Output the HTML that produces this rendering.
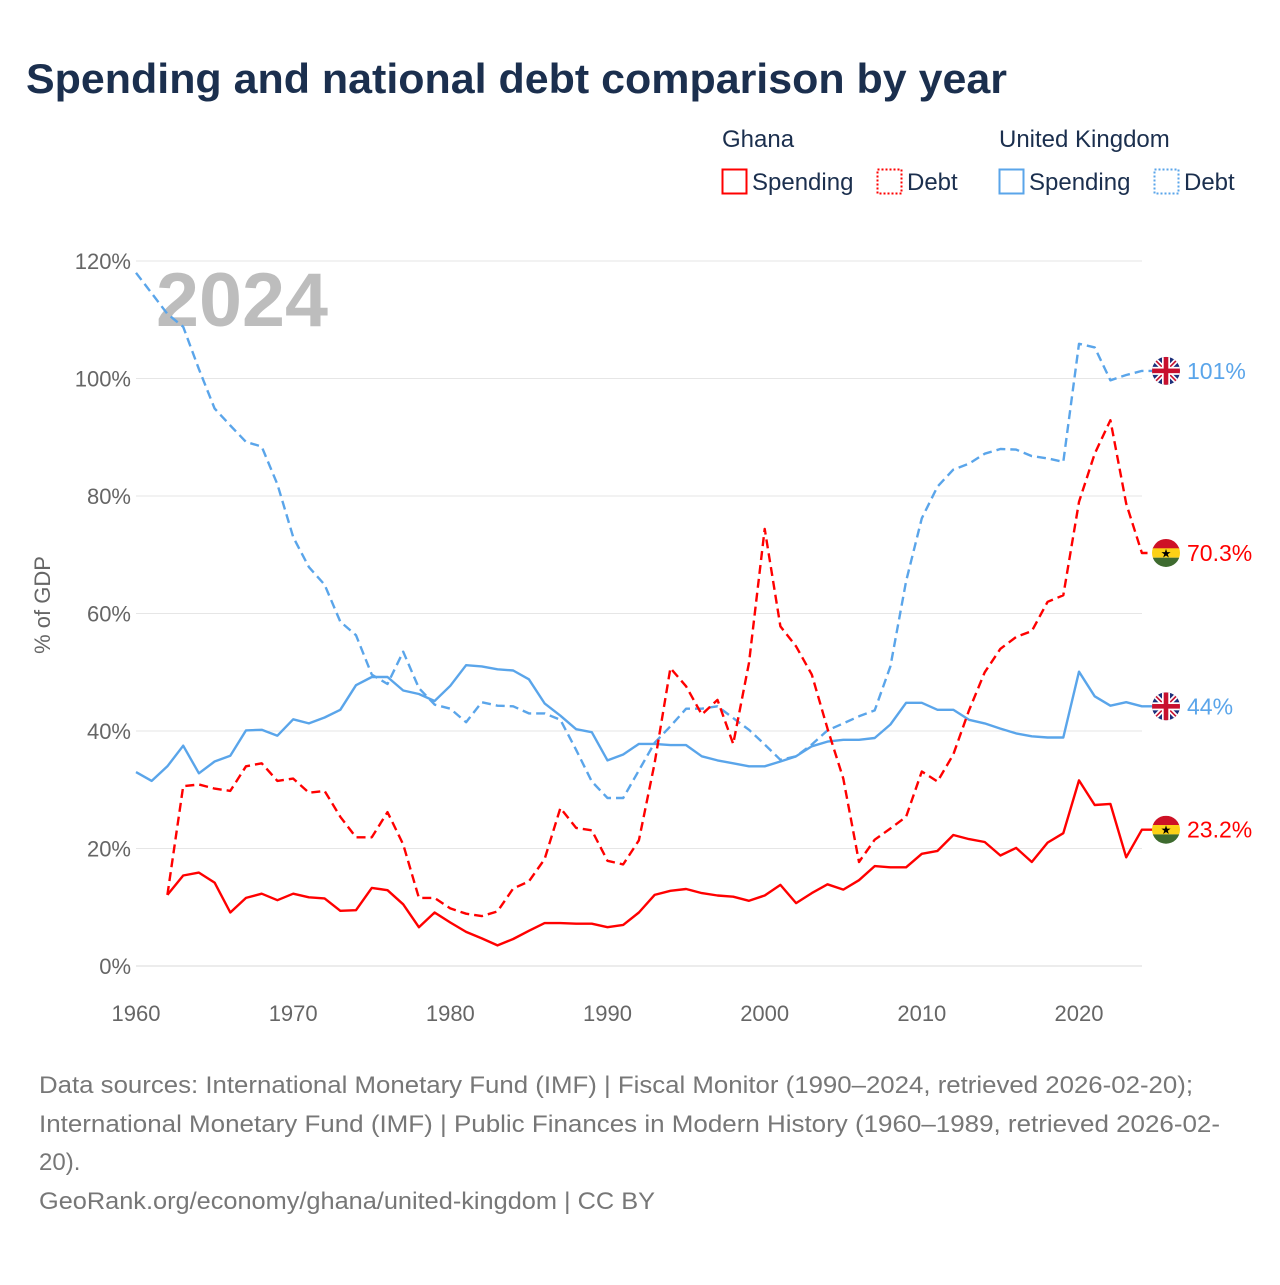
<!DOCTYPE html>
<html><head><meta charset="utf-8"><style>
body{margin:0;background:#fff;width:1280px;height:1280px;overflow:hidden;font-family:"Liberation Sans",sans-serif;}
</style></head><body>
<svg id="chartsvg" width="1280" height="1280" xmlns="http://www.w3.org/2000/svg" font-family="Liberation Sans, sans-serif">
<text x="26" y="93" font-size="42" font-weight="bold" fill="#1b2f4e" textLength="981" lengthAdjust="spacingAndGlyphs">Spending and national debt comparison by year</text>
<g font-size="24" fill="#1b2f4e">
<text x="722" y="147">Ghana</text>
<text x="999" y="147">United Kingdom</text>
<g><rect x="722.5" y="169.5" width="24" height="24" fill="none" stroke="#ff0000" stroke-width="2"/><text x="752" y="190">Spending</text></g>
<g><rect x="877.5" y="169.5" width="24" height="24" fill="none" stroke="#ff0000" stroke-width="2" stroke-dasharray="2,2"/><text x="907" y="190">Debt</text></g>
<g><rect x="999.5" y="169.5" width="24" height="24" fill="none" stroke="#5aa5ea" stroke-width="2"/><text x="1029" y="190">Spending</text></g>
<g><rect x="1154.5" y="169.5" width="24" height="24" fill="none" stroke="#5aa5ea" stroke-width="2" stroke-dasharray="2,2"/><text x="1184" y="190">Debt</text></g>
</g>
<text x="156" y="326" font-size="76" font-weight="bold" fill="#bdbdbd" textLength="172" lengthAdjust="spacingAndGlyphs">2024</text>
<text transform="translate(50,605) rotate(-90)" text-anchor="middle" font-size="22" fill="#666">% of GDP</text>
<g id="gridLayer"></g>
<g id="lineLayer"></g>
<g id="endLayer"></g>
<g font-size="24" fill="#777">
<text x="39" y="1093" textLength="1154" lengthAdjust="spacingAndGlyphs">Data sources: International Monetary Fund (IMF) | Fiscal Monitor (1990–2024, retrieved 2026-02-20);</text>
<text x="39" y="1132" textLength="1181" lengthAdjust="spacingAndGlyphs">International Monetary Fund (IMF) | Public Finances in Modern History (1960–1989, retrieved 2026-02-</text>
<text x="39" y="1170">20).</text>
<text x="39" y="1209" textLength="616" lengthAdjust="spacingAndGlyphs">GeoRank.org/economy/ghana/united-kingdom | CC BY</text>
</g>
</svg>
<script>
var years = [1960,1961,1962,1963,1964,1965,1966,1967,1968,1969,1970,1971,1972,1973,1974,1975,1976,1977,1978,1979,1980,1981,1982,1983,1984,1985,1986,1987,1988,1989,1990,1991,1992,1993,1994,1995,1996,1997,1998,1999,2000,2001,2002,2003,2004,2005,2006,2007,2008,2009,2010,2011,2012,2013,2014,2015,2016,2017,2018,2019,2020,2021,2022,2023,2024];
var yTicks = [0,20,40,60,80,100,120];
var xTicks = [1960,1970,1980,1990,2000,2010,2020];
var ukDebt = [118,114.5,111,108.8,101.6,94.9,92,89.2,88.4,82,73,67.9,64.9,58.6,56.3,49.6,48,53.5,47.3,44.5,43.8,41.5,44.9,44.3,44.2,43,43,41.9,36.8,31.4,28.6,28.6,33.3,38,40.8,43.8,43.8,44.2,42.2,40.2,37.7,35.1,35.7,37.7,40.1,41.3,42.5,43.5,51,65.5,76.2,81.6,84.5,85.5,87.2,88,87.9,86.8,86.4,85.8,105.9,105.3,99.7,100.6,101.3];
var ukSpending = [33,31.5,34,37.5,32.8,34.8,35.8,40.1,40.2,39.2,42,41.3,42.3,43.6,47.8,49.2,49.2,46.9,46.3,45.1,47.7,51.2,51,50.5,50.3,48.8,44.7,42.6,40.3,39.8,35,36,37.8,37.8,37.6,37.6,35.7,35,34.5,34,34,34.8,35.7,37.4,38.2,38.5,38.5,38.8,41.1,44.8,44.8,43.6,43.6,41.9,41.3,40.4,39.6,39.1,38.9,38.9,50.1,45.9,44.3,44.9,44.2];
var ghDebt = [null,null,12.1,30.6,30.9,30.2,29.8,34,34.5,31.5,31.9,29.5,29.8,25.4,21.9,21.9,26.2,20.7,11.6,11.6,9.8,8.9,8.5,9.3,13.2,14.4,18.2,26.9,23.5,23.1,17.9,17.3,21.4,34.5,50.7,47.6,42.8,45.3,37.8,51.6,74.4,57.8,54.4,49.6,40.4,31.9,17.7,21.5,23.4,25.4,33.1,31.4,36,43.5,50,54,56,57,62,63.1,79,87.2,92.9,78.7,70.3];
var ghSpending = [null,null,12.1,15.4,15.9,14.2,9.1,11.6,12.3,11.2,12.3,11.7,11.5,9.4,9.5,13.3,12.9,10.5,6.6,9.1,7.4,5.8,4.7,3.5,4.6,6,7.3,7.3,7.2,7.2,6.6,7,9.1,12.1,12.8,13.1,12.4,12,11.8,11.1,12,13.8,10.7,12.4,13.9,13,14.6,17,16.8,16.8,19.1,19.6,22.3,21.6,21.1,18.8,20.1,17.7,21,22.6,31.6,27.4,27.6,18.5,23.2];
var endLabels = ["101%","44%","70.3%","23.2%"];

var SVGNS = "http://www.w3.org/2000/svg";
function xScale(y){ return 136 + (y - 1960) * (1079 - 136) / 60; }
function yScale(v){ return 966 - v * 5.875; }
function makeEl(tag, attrs, parent){
  var e = document.createElementNS(SVGNS, tag);
  for (var k in attrs){ e.setAttribute(k, String(attrs[k])); }
  parent.appendChild(e);
  return e;
}
var gridLayer = document.getElementById('gridLayer');
var lineLayer = document.getElementById('lineLayer');
var endLayer = document.getElementById('endLayer');

for (var i = 0; i < yTicks.length; i++){
  var t = yTicks[i];
  var gl = makeEl('line', {x1:136, x2:1142, y1:yScale(t), y2:yScale(t), stroke:(t === 0 ? '#d8d8d8' : '#e6e6e6'), 'stroke-width':1}, gridLayer);
  
  
  var yl = makeEl('text', {x:131, y:yScale(t) + 8, 'text-anchor':'end', 'font-size':22, fill:'#666'}, gridLayer);
  yl.textContent = t + '%';
  
  
}
for (var j = 0; j < xTicks.length; j++){
  var xl = makeEl('text', {x:xScale(xTicks[j]), y:1021, 'text-anchor':'middle', 'font-size':22, fill:'#666'}, gridLayer);
  xl.textContent = String(xTicks[j]);
  
  
}

function drawSeries(arr, color, dashed, seriesName){
  var d = '';
  var started = false;
  var last = null;
  for (var k = 0; k < arr.length; k++){
    if (arr[k] === null || arr[k] === undefined) continue;
    d += (started ? 'L' : 'M') + xScale(years[k]).toFixed(1) + ',' + yScale(arr[k]).toFixed(1);
    started = true;
    last = arr[k];
  }
  d += 'L1154,' + yScale(last).toFixed(1);
  var p = makeEl('path', {d:d, fill:'none', stroke:color, 'stroke-width':2.4, 'stroke-linejoin':'round'}, lineLayer);
  if (dashed) p.setAttribute('stroke-dasharray', '9,5');
  
  
}
drawSeries(ukDebt, '#5aa5ea', true, 'uk-debt-line');
drawSeries(ukSpending, '#5aa5ea', false, 'uk-spending-line');
drawSeries(ghDebt, '#ff0000', true, 'ghana-debt-line');
drawSeries(ghSpending, '#ff0000', false, 'ghana-spending-line');

var seriesList = [[ukDebt,'uk','#5aa5ea'],[ukSpending,'uk','#5aa5ea'],[ghDebt,'gh','#ff0000'],[ghSpending,'gh','#ff0000']];
for (var s = 0; s < seriesList.length; s++){
  var arr = seriesList[s][0];
  var v = arr[arr.length - 1];
  var cy = yScale(v), cx = 1166;
  var g = makeEl('g', {}, endLayer);
  
  
  var cid = 'flagclip' + s;
  var cp = makeEl('clipPath', {id:cid}, g);
  makeEl('circle', {cx:cx, cy:cy, r:14}, cp);
  var inner = makeEl('g', {'clip-path':'url(#' + cid + ')'}, g);
  if (seriesList[s][1] === 'gh'){
    makeEl('rect', {x:cx-14, y:cy-14, width:28, height:10, fill:'#ce1126'}, inner);
    makeEl('rect', {x:cx-14, y:cy-4.7, width:28, height:9.4, fill:'#fcd116'}, inner);
    makeEl('rect', {x:cx-14, y:cy+4.7, width:28, height:10, fill:'#3e6b2f'}, inner);
    var st = makeEl('text', {x:cx, y:cy+4.5, 'text-anchor':'middle', 'font-size':12, fill:'#000'}, inner);
    st.textContent = '\u2605';
  } else {
    makeEl('rect', {x:cx-14, y:cy-14, width:28, height:28, fill:'#1d2f7a'}, inner);
    makeEl('line', {x1:cx-14, y1:cy-14, x2:cx+14, y2:cy+14, stroke:'#fff', 'stroke-width':5}, inner);
    makeEl('line', {x1:cx+14, y1:cy-14, x2:cx-14, y2:cy+14, stroke:'#fff', 'stroke-width':5}, inner);
    makeEl('line', {x1:cx-14, y1:cy-14, x2:cx+14, y2:cy+14, stroke:'#c8102e', 'stroke-width':1.6}, inner);
    makeEl('line', {x1:cx+14, y1:cy-14, x2:cx-14, y2:cy+14, stroke:'#c8102e', 'stroke-width':1.6}, inner);
    makeEl('rect', {x:cx-14, y:cy-4, width:28, height:8, fill:'#fff'}, inner);
    makeEl('rect', {x:cx-4, y:cy-14, width:8, height:28, fill:'#fff'}, inner);
    makeEl('rect', {x:cx-14, y:cy-2.3, width:28, height:4.6, fill:'#c8102e'}, inner);
    makeEl('rect', {x:cx-2.3, y:cy-14, width:4.6, height:28, fill:'#c8102e'}, inner);
  }
  var lbl = makeEl('text', {x:1187, y:cy+8, 'font-size':23, fill:seriesList[s][2]}, endLayer);
  lbl.textContent = endLabels[s];
  
  
}
</script>
</body></html>
